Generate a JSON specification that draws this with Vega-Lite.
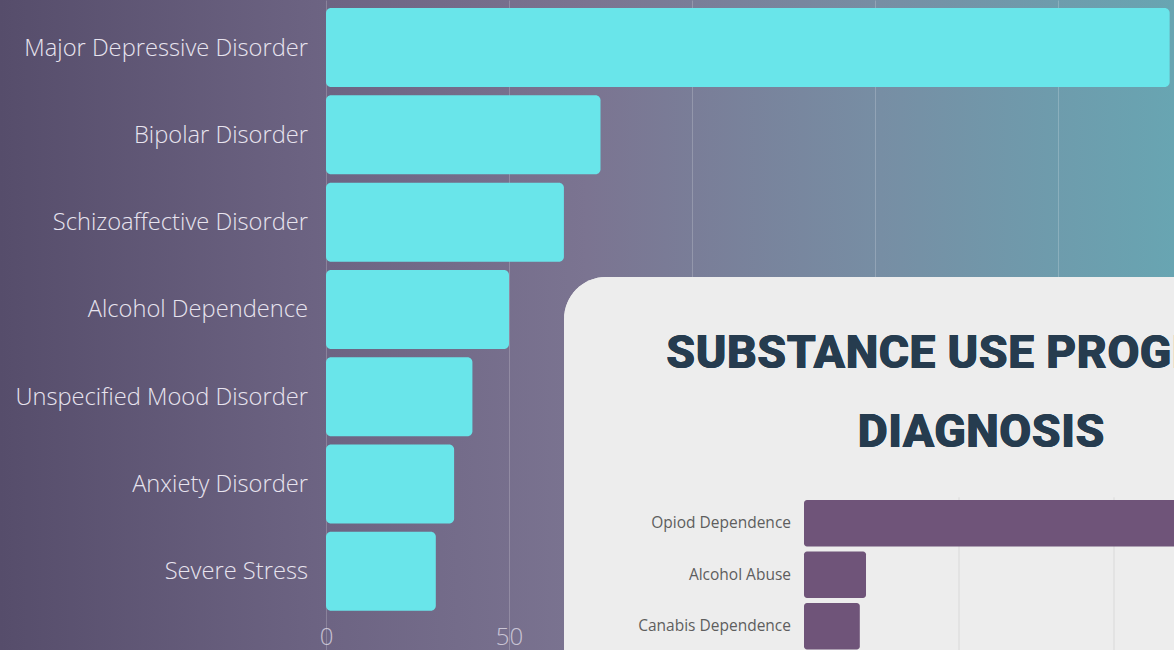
{
  "$schema": "https://vega.github.io/schema/vega-lite/v6.json",
  "width": 1174,
  "height": 650,
  "padding": 0,
  "autosize": {"type": "none"},
  "background": "#5a5172",
  "config": {
    "view": {
      "stroke": null,
      "fill": {
        "gradient": "linear",
        "x1": 0, "y1": 0, "x2": 1, "y2": 0,
        "stops": [
          {"offset": 0, "color": "#564d6b"},
          {"offset": 0.28, "color": "#6d6483"},
          {"offset": 0.5, "color": "#7b7491"},
          {"offset": 0.75, "color": "#778ea4"},
          {"offset": 1, "color": "#68a5b2"}
        ]
      }
    },
    "text": {"font": "Open Sans"}
  },
  "resolve": {"scale": {"x": "independent", "y": "independent"}},
  "layer": [
    {
      "data": {
        "values": [
          {"diagnosis": "Major Depressive Disorder", "count": 230.5},
          {"diagnosis": "Bipolar Disorder", "count": 75},
          {"diagnosis": "Schizoaffective Disorder", "count": 65},
          {"diagnosis": "Alcohol Dependence", "count": 50},
          {"diagnosis": "Unspecified Mood Disorder", "count": 40},
          {"diagnosis": "Anxiety Disorder", "count": 35},
          {"diagnosis": "Severe Stress", "count": 30}
        ]
      },
      "encoding": {
        "y": {
          "field": "diagnosis",
          "type": "nominal",
          "sort": null,
          "scale": {"paddingInner": 0.095, "paddingOuter": 0.27, "align": 0.17},
          "axis": null
        }
      },
      "layer": [
        {
          "mark": {"type": "bar", "color": "#69e5ea", "cornerRadius": 5},
          "encoding": {
            "x": {
              "field": "count",
              "type": "quantitative",
              "scale": {"domain": [-89.07, 231.69], "nice": false, "zero": false},
              "axis": {
                "values": [0, 50, 100, 150, 200],
                "labelExpr": "datum.value <= 50 ? datum.label : ''",
                "title": null,
                "orient": "bottom",
                "offset": -35,
                "domain": false,
                "ticks": false,
                "grid": true,
                "gridColor": "#ffffff",
                "gridOpacity": 0.2,
                "labelFont": "Open Sans",
                "labelFontSize": 24,
                "labelFontWeight": 300,
                "labelColor": "#e6e2ee",
                "labelOpacity": 0.75,
                "labelPadding": 10
              }
            },
            "x2": {"datum": 0}
          }
        },
        {
          "mark": {"type": "text", "align": "right", "baseline": "middle", "dx": -18, "dy": 1, "fontSize": 23.7, "fontWeight": 300, "color": "#e8e4ef"},
          "encoding": {
            "x": {"datum": 0},
            "text": {"field": "diagnosis"}
          }
        }
      ]
    },
    {
      "data": {"values": [{"tick": 50}, {"tick": 100}]},
      "encoding": {
        "x": {"type": "quantitative", "scale": {"domain": [-259.35, 119.35], "nice": false, "zero": false}, "axis": null},
        "y": {"type": "quantitative", "scale": {"domain": [0, 100], "nice": false, "zero": false}, "axis": null}
      },
      "layer": [
        {
          "mark": {"type": "rect", "color": "#ededed", "cornerRadius": 42, "clip": true},
          "encoding": {
            "x": {"datum": -77.4, "type": "quantitative"},
            "x2": {"datum": 200},
            "y": {"datum": 57.4, "type": "quantitative"},
            "y2": {"datum": -40}
          }
        },
        {
          "mark": {"type": "rule", "color": "#d9d9d9", "strokeWidth": 1},
          "encoding": {
            "x": {"field": "tick", "type": "quantitative"},
            "y": {"datum": 23.5, "type": "quantitative"},
            "y2": {"datum": 0}
          }
        },
        {
          "mark": {"type": "text", "align": "left", "baseline": "middle", "font": "Roboto, sans-serif", "fontWeight": 900, "fontSize": 47, "color": "#263c4f", "text": "SUBSTANCE USE PROGRAM"},
          "encoding": {
            "x": {"datum": -44.5, "type": "quantitative"},
            "y": {"datum": 45.6, "type": "quantitative"}
          }
        },
        {
          "mark": {"type": "text", "align": "center", "baseline": "middle", "font": "Roboto, sans-serif", "fontWeight": 900, "fontSize": 47, "color": "#263c4f", "text": "DIAGNOSIS"},
          "encoding": {
            "x": {"datum": 57.1, "type": "quantitative"},
            "y": {"datum": 33.4, "type": "quantitative"}
          }
        }
      ]
    },
    {
      "data": {
        "values": [
          {"diagnosis": "Opiod Dependence", "count": 140},
          {"diagnosis": "Alcohol Abuse", "count": 20},
          {"diagnosis": "Canabis Dependence", "count": 18}
        ]
      },
      "encoding": {
        "y": {
          "field": "diagnosis",
          "type": "nominal",
          "sort": null,
          "scale": {"range": [497.5, 652], "paddingInner": 0.1, "paddingOuter": 0.05},
          "axis": null
        }
      },
      "layer": [
        {
          "mark": {"type": "bar", "color": "#6f5479", "cornerRadius": 3, "clip": true},
          "encoding": {
            "x": {"field": "count", "type": "quantitative", "scale": {"domain": [-259.35, 119.35], "nice": false, "zero": false}, "axis": null},
            "x2": {"datum": 0}
          }
        },
        {
          "mark": {"type": "text", "align": "right", "baseline": "middle", "dx": -13, "fontSize": 15.5, "color": "#5e5e5e"},
          "encoding": {
            "x": {"datum": 0},
            "text": {"field": "diagnosis"}
          }
        }
      ]
    }
  ]
}
